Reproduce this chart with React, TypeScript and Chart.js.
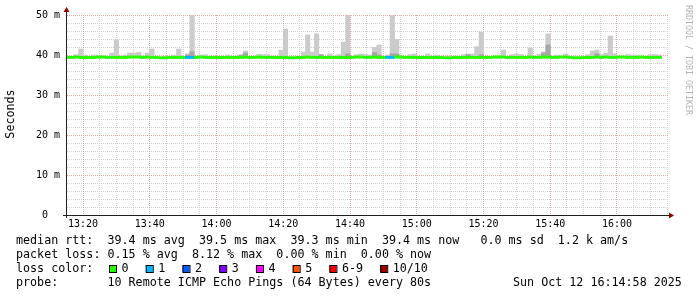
import React, { useEffect, useRef } from 'react';
import { Chart, registerables } from 'chart.js';

Chart.register(...registerables);

// ---- time axis ----
const START_TIME = '13:14:40'; // start of first 80 s step
const STEP_SECONDS = 80;
const AXIS_START = '13:15:12';
const AXIS_END = '16:15:17';
const xTickLabels = ['13:20', '13:40', '14:00', '14:20', '14:40', '15:00', '15:20', '15:40', '16:00'];
const yTickValues = [0, 10, 20, 30, 40, 50];
const yTickLabels = ['0  ', '10 m', '20 m', '30 m', '40 m', '50 m'];

// ---- per-step data (ms) ----
const smokeFloor = 39.3;
const smokeMax = [
  39.6, 39.6, 40.1, 41.5, 40.0, 39.6, 40.0, 39.6, 39.6, 39.6,
  40.5, 43.75, 39.6, 40.0, 40.5, 40.5, 40.7, 39.6, 40.5, 41.5,
  39.6, 39.6, 39.6, 39.6, 40.0, 41.5, 39.6, 40.3, 50.0, 39.6,
  40.0, 40.1, 39.6, 39.6, 39.6, 39.6, 40.0, 39.6, 39.6, 40.0,
  41.0, 39.6, 39.6, 40.2, 40.1, 40.1, 39.6, 39.6, 41.2, 46.5,
  39.6, 39.6, 39.6, 40.75, 45.0, 40.75, 45.25, 40.1, 39.6, 40.25,
  39.6, 40.1, 43.25, 50.0, 39.6, 40.1, 40.25, 40.1, 40.0, 41.9,
  42.5, 39.6, 40.0, 50.0, 43.9, 39.6, 39.6, 40.1, 40.25, 39.6,
  39.6, 40.25, 39.6, 40.0, 39.6, 39.6, 39.6, 39.6, 39.6, 40.1,
  40.25, 40.25, 42.1, 45.75, 39.6, 39.6, 39.6, 39.6, 41.25, 39.6,
  40.1, 40.25, 40.1, 39.6, 41.75, 39.6, 40.2, 40.75, 45.25, 39.6,
  40.0, 39.6, 40.25, 39.6, 39.6, 39.6, 39.6, 40.1, 41.0, 41.25,
  40.1, 40.5, 44.75, 40.3, 39.6, 39.6, 40.1, 40.0, 40.0, 39.6,
  39.6, 40.1, 40.1, 40.0,
];
const _ = null;
const smokeDark: (number | null)[] = [
  _, _, _, _, _, _, _, _, _, _,
  _, _, _, _, _, _, _, _, _, _,
  _, _, _, _, _, _, _, 40.0, 40.8, _,
  _, _, _, _, _, _, _, _, _, 40.0,
  40.5, _, _, _, _, _, _, _, _, _,
  _, _, _, _, _, _, _, 40.1, _, _,
  _, _, _, 40.3, _, _, _, _, _, 40.6,
  40.0, _, _, 40.3, 40.25, _, _, _, _, _,
  _, _, _, _, _, _, _, _, _, _,
  40.1, _, _, 40.1, _, _, _, _, _, _,
  _, _, _, _, _, _, _, 40.5, 42.5, _,
  _, _, _, _, _, _, _, _, _, 40.3,
  _, _, _, _, _, _, _, _, _, _,
  _, _, _, _,
];
const median = [
  39.4, 39.4, 39.5, 39.4, 39.4, 39.4, 39.4, 39.5, 39.5, 39.4,
  39.4, 39.4, 39.4, 39.4, 39.5, 39.5, 39.5, 39.4, 39.5, 39.4,
  39.4, 39.3, 39.3, 39.4, 39.4, 39.4, 39.4, 39.4, 39.4, 39.4,
  39.5, 39.4, 39.4, 39.4, 39.4, 39.4, 39.4, 39.4, 39.4, 39.4,
  39.5, 39.4, 39.4, 39.5, 39.4, 39.4, 39.4, 39.4, 39.4, 39.4,
  39.3, 39.3, 39.4, 39.4, 39.5, 39.4, 39.4, 39.4, 39.4, 39.4,
  39.4, 39.4, 39.4, 39.4, 39.4, 39.5, 39.5, 39.4, 39.4, 39.5,
  39.4, 39.4, 39.4, 39.4, 39.5, 39.5, 39.4, 39.4, 39.4, 39.4,
  39.4, 39.4, 39.4, 39.4, 39.4, 39.3, 39.3, 39.4, 39.4, 39.4,
  39.4, 39.4, 39.4, 39.4, 39.4, 39.4, 39.5, 39.5, 39.5, 39.4,
  39.4, 39.4, 39.4, 39.4, 39.5, 39.4, 39.4, 39.5, 39.5, 39.4,
  39.4, 39.5, 39.5, 39.4, 39.3, 39.3, 39.4, 39.4, 39.4, 39.5,
  39.4, 39.5, 39.4, 39.4, 39.5, 39.5, 39.4, 39.4, 39.4, 39.5,
  39.4, 39.4, 39.4, 39.4,
];
const loss = [
  0, 0, 0, 0, 0, 0, 0, 0, 0, 0,
  0, 0, 0, 0, 0, 0, 0, 0, 0, 0,
  0, 0, 0, 0, 0, 0, 0, 1, 1, 0,
  0, 0, 0, 0, 0, 0, 0, 0, 0, 0,
  0, 0, 0, 0, 0, 0, 0, 0, 0, 0,
  0, 0, 0, 0, 0, 0, 0, 0, 0, 0,
  0, 0, 0, 0, 0, 0, 0, 0, 0, 0,
  0, 0, 1, 1, 0, 0, 0, 0, 0, 0,
  0, 0, 0, 0, 0, 0, 0, 0, 0, 0,
  0, 0, 0, 0, 0, 0, 0, 0, 0, 0,
  0, 0, 0, 0, 0, 0, 0, 0, 0, 0,
  0, 0, 0, 0, 0, 0, 0, 0, 0, 0,
  0, 0, 0, 0, 0, 0, 0, 0, 0, 0,
  0, 0, 0, 0,
];

// ---- legend ----
const lossLabels = ['0', '1', '2', '3', '4', '5', '6-9', '10/10'];
const lossColors = ['#26ff00', '#00b8ff', '#0059ff', '#7e00ff', '#ff00ff', '#ff5500', '#ff0000', '#a10000'];
const legendLines = [
  'median rtt:  39.4 ms avg  39.5 ms max  39.3 ms min  39.4 ms now   0.0 ms sd  1.2 k am/s',
  'packet loss: 0.15 % avg  8.12 % max  0.00 % min  0.00 % now',
  'loss color:',
  'probe:       10 Remote ICMP Echo Pings (64 Bytes) every 80s',
];
const dateText = 'Sun Oct 12 16:14:58 2025';
const yAxisTitle = 'Seconds';
const watermark = 'RRDTOOL / TOBI OETIKER';

const toMin = (t: string) => {
  const [h, m, s = 0] = t.split(':').map(Number);
  return h * 60 + m + s / 60;
};

const MONO = '"DejaVu Sans Mono", monospace';
const MEDIAN_HALF = 0.28;

const decor = {
  id: 'decor',
  beforeDatasetsDraw(chart: any) {
    const { ctx, chartArea: a, scales } = chart;
    const x = scales.x;
    const y = scales.y;
    ctx.save();
    ctx.lineWidth = 1;
    ctx.setLineDash([1, 1]);
    const minor = '#d0d0d0';
    const major = '#eba6a6';
    const vLine = (v: number, c: string) => {
      const px = Math.floor(x.getPixelForValue(v)) + 0.5;
      ctx.strokeStyle = c;
      ctx.beginPath();
      ctx.moveTo(px, a.top);
      ctx.lineTo(px, a.bottom);
      ctx.stroke();
    };
    const hLine = (v: number, c: string) => {
      const py = Math.round(y.getPixelForValue(v)) + 0.5;
      ctx.strokeStyle = c;
      ctx.beginPath();
      ctx.moveTo(a.left, py);
      ctx.lineTo(a.right, py);
      ctx.stroke();
    };
    for (let v = Math.ceil(x.min / 5) * 5; v <= x.max; v += 5) if (v % 20 !== 0) vLine(v, minor);
    for (let v = 2; v < y.max; v += 2) if (v % 10 !== 0) hLine(v, minor);
    for (let v = Math.ceil(x.min / 20) * 20; v <= x.max; v += 20) vLine(v, major);
    for (let v = 10; v <= y.max; v += 10) hLine(v, major);
    ctx.restore();
  },
  afterDraw(chart: any) {
    const { ctx, chartArea: a } = chart;
    ctx.save();
    // axes
    ctx.fillStyle = '#202020';
    const ax = Math.round(a.left) - 1;
    const ay = Math.round(a.bottom);
    ctx.fillRect(ax - 3, ay, Math.round(a.right) - ax + 6, 1);
    ctx.fillRect(ax, Math.round(a.top) - 5, 1, ay - Math.round(a.top) + 8);
    ctx.fillStyle = '#990000';
    ctx.beginPath();
    ctx.moveTo(ax + 0.5, Math.round(a.top) - 8);
    ctx.lineTo(ax + 3.5, Math.round(a.top) - 3);
    ctx.lineTo(ax - 2.5, Math.round(a.top) - 3);
    ctx.closePath();
    ctx.fill();
    ctx.beginPath();
    ctx.moveTo(Math.round(a.right) + 6, ay + 0.5);
    ctx.lineTo(Math.round(a.right) + 1, ay - 2.5);
    ctx.lineTo(Math.round(a.right) + 1, ay + 3.5);
    ctx.closePath();
    ctx.fill();

    // legend text
    ctx.font = `11.7px ${MONO}`;
    ctx.fillStyle = '#000';
    ctx.textBaseline = 'middle';
    ctx.textAlign = 'left';
    const lineY = [241, 255, 269, 283];
    legendLines.forEach((t, i) => ctx.fillText(t, 16, lineY[i]));
    ctx.fillText(dateText, 513, lineY[3]);

    // loss color boxes
    let bx = 109;
    lossLabels.forEach((lbl, i) => {
      ctx.fillStyle = lossColors[i];
      ctx.fillRect(bx, 265, 7, 7);
      ctx.strokeStyle = '#000';
      ctx.lineWidth = 1;
      ctx.strokeRect(bx + 0.5, 265.5, 7, 7);
      ctx.fillStyle = '#000';
      ctx.fillText(lbl, bx + 12.5, lineY[2]);
      bx += 12.5 + ctx.measureText(lbl).width + 17.2;
    });

    // y axis title
    ctx.save();
    ctx.translate(10.5, 114);
    ctx.rotate(-Math.PI / 2);
    ctx.textAlign = 'center';
    ctx.fillText(yAxisTitle, 0, 0);
    ctx.restore();

    // watermark
    ctx.save();
    ctx.translate(688, 5);
    ctx.rotate(Math.PI / 2);
    ctx.font = `8.3px ${MONO}`;
    ctx.fillStyle = '#b4b4b4';
    ctx.textAlign = 'left';
    ctx.fillText(watermark, 0, 0);
    ctx.restore();

    ctx.restore();
  },
};

export default function App() {
  const ref = useRef<HTMLCanvasElement>(null);

  useEffect(() => {
    if (!ref.current) return;
    const start = toMin(START_TIME);
    const step = STEP_SECONDS / 60;
    const xs = smokeMax.map((_v, i) => start + step * (i + 0.5));
    const barCommon = {
      grouped: false,
      barPercentage: 1,
      categoryPercentage: 1,
      borderWidth: 0,
      clip: 0,
    };
    const chart = new Chart(ref.current, {
      type: 'bar',
      data: {
        datasets: [
          {
            ...barCommon,
            label: 'median',
            order: 0,
            data: xs.map((x, i) => ({ x, y: [median[i] - MEDIAN_HALF, median[i] + MEDIAN_HALF] })),
            backgroundColor: loss.map((l) => lossColors[l]),
          },
          {
            ...barCommon,
            label: 'smoke-dark',
            order: 1,
            data: xs.map((x, i) => ({ x, y: smokeDark[i] == null ? null : [smokeFloor, smokeDark[i]] })),
            backgroundColor: '#a6a6a6',
          },
          {
            ...barCommon,
            label: 'smoke',
            order: 2,
            data: xs.map((x, i) => ({ x, y: [smokeFloor, smokeMax[i]] })),
            backgroundColor: '#cbcbcb',
          },
        ] as any,
      },
      options: {
        responsive: false,
        animation: false,
        devicePixelRatio: 1,
        layout: { padding: { left: 0, right: 29, top: 15, bottom: 0 } },
        plugins: { legend: { display: false }, tooltip: { enabled: false }, title: { display: false } },
        scales: {
          x: {
            type: 'linear',
            bounds: 'data',
            min: toMin(AXIS_START),
            max: toMin(AXIS_END),
            offset: false,
            grid: { display: false, drawTicks: false },
            border: { display: false },
            ticks: {
              font: { family: MONO, size: 10 },
              color: '#000',
              padding: 3,
              maxRotation: 0,
              autoSkip: false,
              callback: (_v: any, i: number) => xTickLabels[i],
            },
            afterBuildTicks: (s: any) => {
              s.ticks = xTickLabels.map((t) => ({ value: toMin(t) }));
            },
            afterFit: (s: any) => {
              s.height = 82;
            },
          },
          y: {
            type: 'linear',
            bounds: 'data',
            min: 0,
            max: 50,
            grid: { display: false, drawTicks: false },
            border: { display: false },
            ticks: {
              font: { family: MONO, size: 10 },
              color: '#000',
              padding: 7,
              autoSkip: false,
              callback: (_v: any, i: number) => yTickLabels[i],
            },
            afterBuildTicks: (s: any) => {
              s.ticks = yTickValues.map((v) => ({ value: v }));
            },
            afterFit: (s: any) => {
              s.width = 67;
            },
          },
        },
      } as any,
      plugins: [decor],
    });
    return () => chart.destroy();
  }, []);

  return (
    <div style={{ position: 'fixed', left: 0, top: 0, width: 697, height: 297, background: '#fff' }}>
      <canvas ref={ref} width={697} height={297} style={{ display: 'block', width: 697, height: 297 }} />
    </div>
  );
}
